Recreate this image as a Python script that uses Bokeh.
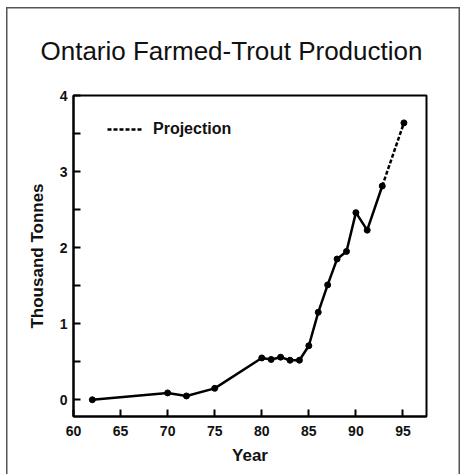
from bokeh.plotting import figure
from bokeh.models import FixedTicker, Range1d, Legend, LegendItem
from bokeh.embed import file_html
from bokeh.resources import INLINE

# Data
years = [62, 70, 72, 75, 80, 81, 82, 83, 84, 85, 86, 87, 88, 89, 90, 91.2, 92.8]
production = [0.0, 0.09, 0.05, 0.15, 0.55, 0.53, 0.56, 0.52, 0.52, 0.71, 1.15, 1.51, 1.85, 1.95, 2.46, 2.23, 2.81]
proj_years = [92.8, 95.1]
proj_values = [2.81, 3.64]
x_ticks = [60, 65, 70, 75, 80, 85, 90, 95]
y_ticks = [0, 1, 2, 3, 4]
y_minor = [0.5, 1.5, 2.5, 3.5]

FONT = "Liberation Sans"

p = figure(width=462, height=474, output_backend="svg", toolbar_location=None,
           x_range=Range1d(60, 97.5), y_range=Range1d(-0.22, 4.0),
           min_border_left=73, min_border_right=36, min_border_top=95, min_border_bottom=58)

p.background_fill_color = "white"
p.border_fill_alpha = 0
p.grid.visible = False
p.outline_line_color = "black"
p.outline_line_width = 2

# Outer frame around the whole picture (drawn as CSS inset shadows)
p.styles = {
    "box-shadow": ("inset 6px 0 0 0 white, inset 0 7px 0 0 white, inset -2px 0 0 0 white, "
                   "inset 7.5px 0 0 0 #555, inset 0 8.5px 0 0 #555, inset -3.5px 0 0 0 #555"),
    "background-color": "white",
}

# Title
p.title.text = "Ontario Farmed-Trout Production"
p.title.text_font = FONT
p.title.text_font_size = "26px"
p.title.text_font_style = "normal"
p.title.text_color = "#111111"
p.title.align = "left"
p.title.offset = -33
p.title.standoff = 59

# Axes
for ax in (p.xaxis[0], p.yaxis[0]):
    ax.axis_line_color = "black"
    ax.axis_line_width = 2
    ax.major_tick_line_color = "black"
    ax.major_tick_line_width = 2
    ax.major_tick_in = 7
    ax.major_tick_out = 0
    ax.minor_tick_line_color = "black"
    ax.minor_tick_line_width = 2
    ax.minor_tick_in = 7
    ax.minor_tick_out = 0
    ax.major_label_text_font = FONT
    ax.major_label_text_font_style = "bold"
    ax.major_label_text_font_size = "14px"
    ax.major_label_text_color = "#111111"
    ax.axis_label_text_font = FONT
    ax.axis_label_text_font_style = "bold"
    ax.axis_label_text_font_size = "17px"
    ax.axis_label_text_color = "#111111"

p.xaxis.ticker = FixedTicker(ticks=x_ticks)
p.xaxis.major_label_standoff = 9
p.xaxis.axis_label = "Year"
p.xaxis.axis_label_standoff = 7

p.yaxis.ticker = FixedTicker(ticks=y_ticks, minor_ticks=y_minor)
p.yaxis.major_label_standoff = 6
p.yaxis.axis_label = "Thousand Tonnes"
p.yaxis.axis_label_standoff = 10

# Data
p.line(years, production, line_color="black", line_width=2.5)
p.scatter(years, production, size=6, fill_color="black", line_color="black")
proj_line = p.line(proj_years, proj_values, line_color="black", line_width=2.5, line_dash="4 2")
p.scatter(proj_years[1:], proj_values[1:], size=6, fill_color="black", line_color="black")

legend = Legend(items=[LegendItem(label="Projection", renderers=[proj_line])],
                location=(34, 277), padding=0, margin=0, spacing=0,
                glyph_width=35, glyph_height=20, label_height=20, label_standoff=11,
                border_line_color=None, background_fill_alpha=0,
                label_text_font=FONT, label_text_font_style="bold",
                label_text_font_size="16px", label_text_color="#111111")
p.add_layout(legend, "center")

open("out.html", "w").write(file_html(p, INLINE))
